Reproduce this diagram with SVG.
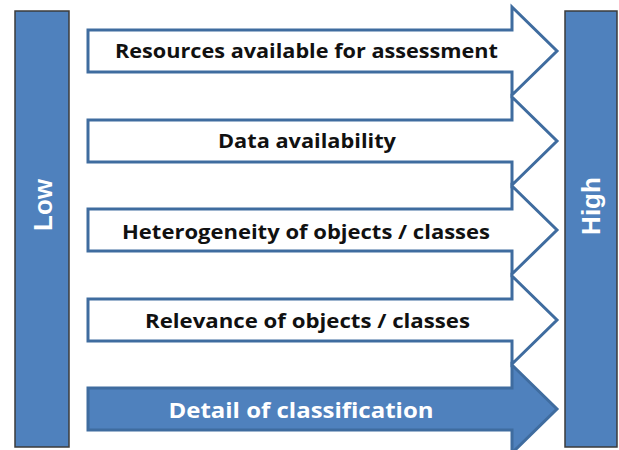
<svg xmlns="http://www.w3.org/2000/svg" width="619" height="450" viewBox="0 0 619 450">
  <style>
    .bar { fill: #4f81bd; stroke: #3b3b3b; stroke-width: 1.5; }
    .arrow { fill: #ffffff; stroke: #3f6c9f; stroke-width: 3; stroke-linejoin: miter; }
    .arrow.filled { fill: #4f81bd; stroke: #3f6c9f; }
    .label { font-family: "Open Sans", "Liberation Sans", Arial, sans-serif; font-weight: bold; font-size: 19.5px; fill: #111111; text-anchor: middle; }
    .label.light { fill: #ffffff; font-size: 22px; }
    .side { font-family: "Liberation Sans", Arial, sans-serif; font-weight: bold; font-size: 26px; fill: #ffffff; text-anchor: middle; }
  </style>
  <defs>
    <!-- block arrow centred on y=0: body 42 high, head 88 high -->
    <path id="blockArrow" d="M88,-21 H512 V-44 L557,0 L512,44 V21 H88 Z"/>
  </defs>
  <rect width="619" height="450" fill="#ffffff"/>

  <g id="low">
    <rect class="bar" x="15" y="11" width="54" height="436"/>
    <text class="side" transform="translate(52,205) rotate(-90)">Low</text>
  </g>

  <g id="high">
    <rect class="bar" x="565" y="11" width="52" height="436"/>
    <text class="side" transform="translate(600,206) rotate(-90)">High</text>
  </g>

  <g id="connectors">
    <g id="resources" transform="translate(0,51)">
      <use href="#blockArrow" class="arrow"/>
      <text class="label" x="306.5" y="7" textLength="383" lengthAdjust="spacingAndGlyphs">Resources available for assessment</text>
    </g>
    <g id="data" transform="translate(0,141)">
      <use href="#blockArrow" class="arrow"/>
      <text class="label" x="307" y="7" textLength="178" lengthAdjust="spacingAndGlyphs">Data availability</text>
    </g>
    <g id="heterogeneity" transform="translate(0,230)">
      <use href="#blockArrow" class="arrow"/>
      <text class="label" x="306" y="9" textLength="368" lengthAdjust="spacingAndGlyphs">Heterogeneity of objects / classes</text>
    </g>
    <g id="relevance" transform="translate(0,320)">
      <use href="#blockArrow" class="arrow"/>
      <text class="label" x="307.5" y="8" textLength="325" lengthAdjust="spacingAndGlyphs">Relevance of objects / classes</text>
    </g>
    <g id="detail" transform="translate(0,409)">
      <use href="#blockArrow" class="arrow filled"/>
      <text class="label light" x="301" y="9" textLength="265" lengthAdjust="spacingAndGlyphs">Detail of classification</text>
    </g>
  </g>
</svg>
